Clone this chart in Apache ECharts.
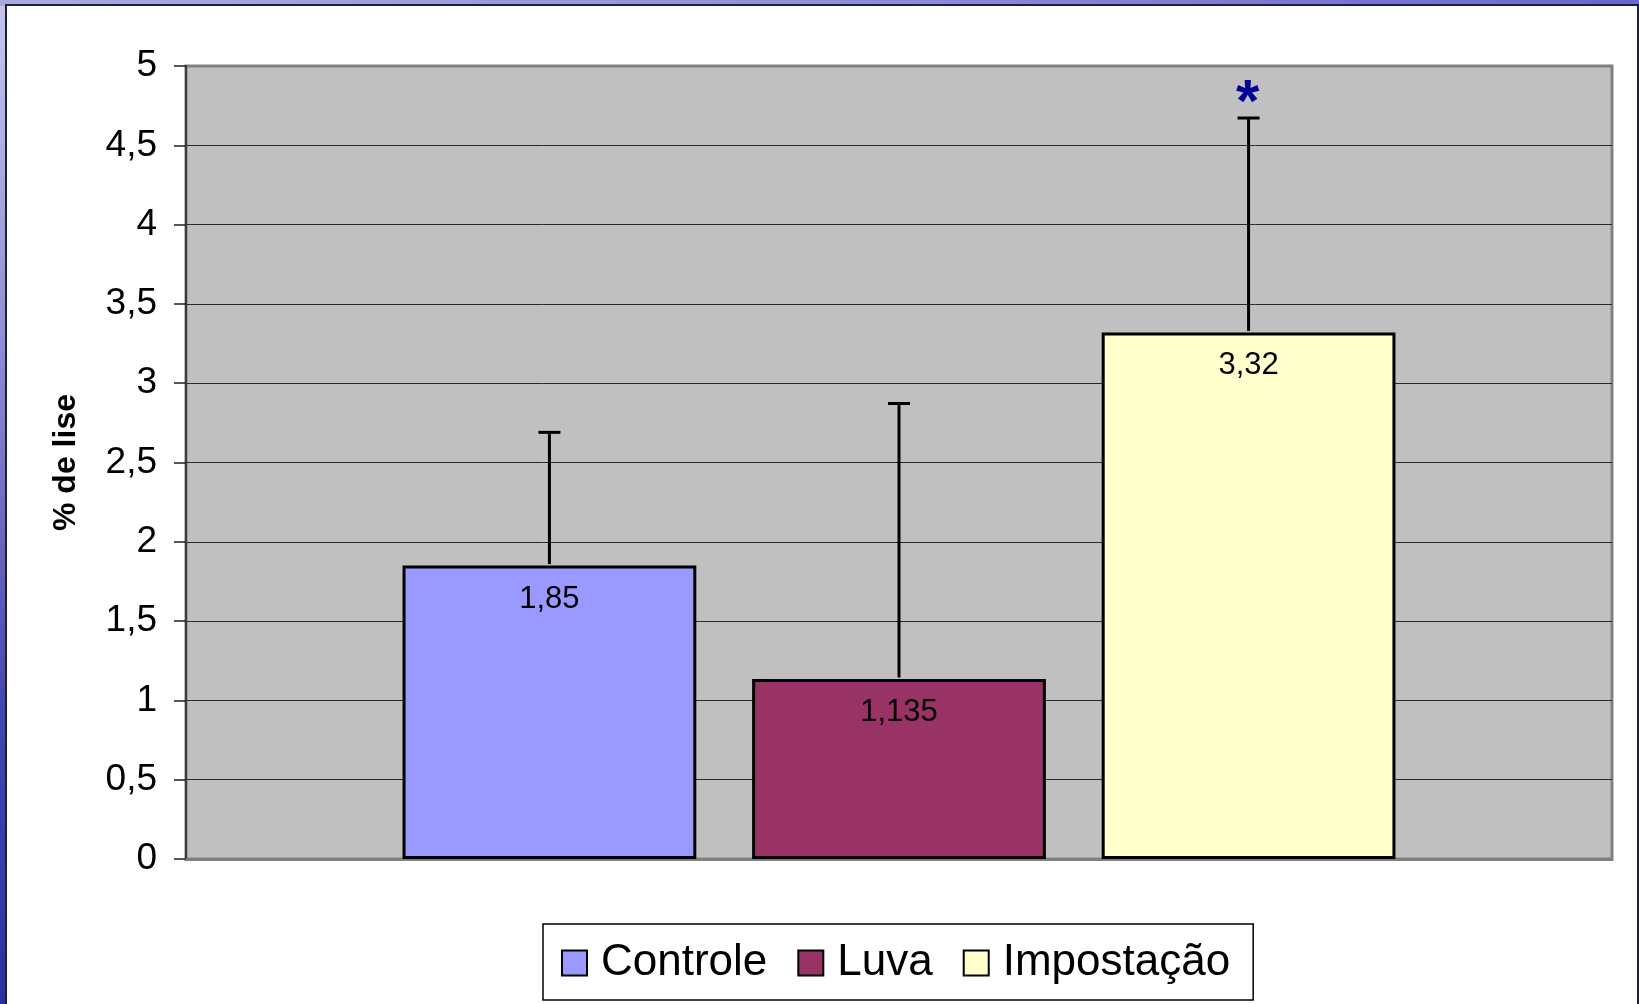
<!DOCTYPE html>
<html>
<head>
<meta charset="utf-8">
<script src="https://cdn.jsdelivr.net/npm/echarts@6/dist/echarts.min.js"></script>
<style>
  html, body { margin: 0; padding: 0; }
  body {
    width: 1639px; height: 1004px; overflow: hidden; position: relative;
    background: linear-gradient(to bottom, #c6c6ea 0%, #8c8cd2 35%, #4646b0 70%, #2f2fa0 100%);
  }
  #topstrip {
    position: absolute; left: 0; top: 0; width: 1639px; height: 6px;
    background: linear-gradient(to right, #aaaadf 0%, #9090d8 50%, #6868cc 100%);
  }
  #panel {
    position: absolute; left: 5px; top: 4px; width: 1630px; height: 1010px;
    background: #ffffff; border: 2px solid #1e1e40; border-bottom: none;
  }
  #chart { position: absolute; left: 0; top: 0; width: 1639px; height: 1004px; }
</style>
</head>
<body>
<div id="topstrip"></div>
<div id="panel"></div>
<div id="chart"></div>
<script>
// ---- data ----
const seriesNames = ['Controle', 'Luva', 'Impostação'];
const meanValues = [1.85, 1.135, 3.32];
const errorTops = [2.69, 2.872, 4.672];
const significance = ['', '', '*'];
const seriesColors = ['#9999FF', '#993366', '#FFFFCC'];
const axisCategories = [''];
const yMin = 0, yMax = 5, yInterval = 0.5;
const yAxisTitle = '% de lise';

// ---- layout constants ----
const BAR_FRAC = 0.206;
const BAR_GAP = 0.19;
const FONT = '"Liberation Sans", Arial, sans-serif';
const toComma = v => String(v).replace('.', ',');

const chart = echarts.init(document.getElementById('chart'), null, { renderer: 'canvas' });

const barSeries = seriesNames.map((name, i) => ({
  name: name,
  type: 'bar',
  data: [meanValues[i]],
  barWidth: (BAR_FRAC * 100) + '%',
  barGap: (BAR_GAP * 100) + '%',
  itemStyle: { color: seriesColors[i], borderColor: '#000', borderWidth: 3 },
  label: {
    show: true,
    position: 'insideTop',
    distance: 18,
    formatter: p => toComma(p.value),
    fontSize: 31,
    fontFamily: FONT,
    color: '#000'
  },
  emphasis: { disabled: true }
}));

const errorData = seriesNames.map((n, i) => [0, i, meanValues[i], errorTops[i], significance[i]]);

const errorSeries = {
  type: 'custom',
  silent: true,
  clip: false,
  z: 5,
  data: errorData,
  encode: { x: 0, y: [2, 3] },
  renderItem: function (params, api) {
    const idx = api.value(1);
    const n = seriesNames.length;
    const band = api.size([1, 0])[0];
    const bw = band * BAR_FRAC;
    const off = (idx - (n - 1) / 2) * bw * (1 + BAR_GAP);
    const p0 = api.coord([api.value(0), api.value(2)]);
    const p1 = api.coord([api.value(0), api.value(3)]);
    const x = p0[0] + off;
    const children = [
      { type: 'line', shape: { x1: x, y1: p0[1] - 1.5, x2: x, y2: p1[1] },
        style: { stroke: '#000', lineWidth: 3 } },
      { type: 'line', shape: { x1: x - 11, y1: p1[1], x2: x + 11, y2: p1[1] },
        style: { stroke: '#000', lineWidth: 3 } }
    ];
    const sig = errorData[params.dataIndex][4];
    if (sig) {
      children.push({
        type: 'text',
        style: {
          text: sig, x: x - 1, y: p1[1] - 14,
          fill: '#000099',
          font: 'bold 60px ' + FONT,
          textAlign: 'center', textVerticalAlign: 'middle'
        }
      });
    }
    return { type: 'group', children: children };
  }
};

chart.setOption({
  backgroundColor: 'transparent',
  animation: false,
  textStyle: { fontFamily: FONT },
  grid: {
    left: 186, top: 66, right: 27, bottom: 145,
    show: true, backgroundColor: '#C0C0C0', borderColor: '#808080', borderWidth: 3
  },
  legend: {
    data: seriesNames,
    left: 543, top: 924,
    orient: 'horizontal',
    icon: 'rect',
    padding: [16, 23, 14, 18],
    itemGap: 30,
    itemWidth: 25, itemHeight: 25,
    borderColor: '#000', borderWidth: 1.5,
    backgroundColor: '#fff',
    selectedMode: false,
    textStyle: { fontSize: 44, lineHeight: 44, color: '#000', fontFamily: FONT, padding: [2, 0, 0, 9] }
  },
  xAxis: {
    type: 'category',
    data: axisCategories,
    axisLine: { show: true, lineStyle: { color: '#808080', width: 3 } },
    axisTick: { show: false },
    axisLabel: { show: false },
    splitLine: { show: false }
  },
  yAxis: {
    type: 'value',
    min: yMin, max: yMax, interval: yInterval,
    name: yAxisTitle,
    nameLocation: 'middle',
    nameRotate: 90,
    nameGap: 104,
    nameTextStyle: { fontSize: 32, fontWeight: 'bold', color: '#000', fontFamily: FONT },
    axisLine: { show: true, lineStyle: { color: '#3a3a3a', width: 2 } },
    axisTick: { show: true, length: 12, lineStyle: { color: '#222', width: 1.5 } },
    axisLabel: { fontSize: 37, color: '#000', margin: 29, fontFamily: FONT, formatter: v => toComma(v) },
    splitLine: { show: true, showMinLine: false, showMaxLine: false, lineStyle: { color: '#2a2a2a', width: 1 } }
  },
  series: barSeries.concat([errorSeries])
});
</script>
</body>
</html>
